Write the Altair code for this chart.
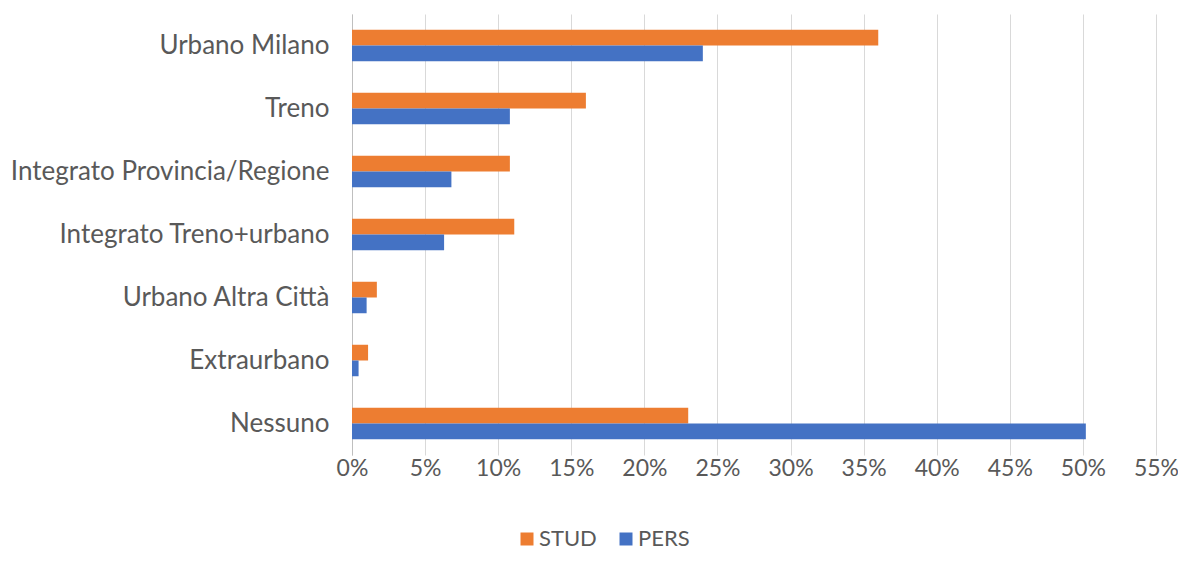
import altair as alt
import pandas as pd

categories = ["Urbano Milano", "Treno", "Integrato Provincia/Regione",
              "Integrato Treno+urbano", "Urbano Altra Città", "Extraurbano", "Nessuno"]
stud = [36.0, 16.0, 10.8, 11.1, 1.7, 1.1, 23.0]
pers = [24.0, 10.8, 6.8, 6.3, 1.0, 0.45, 50.2]
series = ["STUD", "PERS"]
colors = ["#ED7D31", "#4472C4"]
x_ticks = list(range(0, 56, 5))

rows = []
for c, s, p in zip(categories, stud, pers):
    rows.append({"cat": c, "serie": "STUD", "val": s})
    rows.append({"cat": c, "serie": "PERS", "val": p})
df = pd.DataFrame(rows)

FONT = "Lato"
GREY = "#595959"

chart = alt.Chart(df).mark_bar().encode(
    y=alt.Y("cat:N", sort=categories, title=None,
            scale=alt.Scale(paddingInner=0.5, paddingOuter=0.25),
            axis=alt.Axis(ticks=False, domain=True, domainColor="#BFBFBF",
                          labelPadding=23, labelFontSize=26, labelColor=GREY,
                          labelFont=FONT, labelLimit=500, grid=False)),
    yOffset=alt.YOffset("serie:N", sort=series, scale=alt.Scale(domain=series, paddingInner=0, paddingOuter=0)),
    x=alt.X("val:Q", title=None,
            scale=alt.Scale(domain=[0, 55], nice=False),
            axis=alt.Axis(values=x_ticks, labelExpr="datum.value + '%'", ticks=False,
                          domain=False, grid=True, gridColor="#D9D9D9",
                          labelFontSize=23, labelColor=GREY, labelFont=FONT,
                          labelPadding=2, labelFlush=False)),
    color=alt.Color("serie:N", sort=series,
                    scale=alt.Scale(domain=series, range=colors),
                    legend=alt.Legend(title=None, orient="none", direction="horizontal",
                                      legendX=164, legendY=514, symbolType="square",
                                      symbolSize=169, symbolStrokeWidth=0,
                                      labelFontSize=22, labelColor=GREY, labelFont=FONT,
                                      columnPadding=18, labelOffset=1)),
).properties(
    width=804, height=441,
    autosize=alt.AutoSizeParams(type="none"),
    padding={"left": 344, "top": 6, "right": 22, "bottom": 100},
).configure(background="white").configure_view(stroke=None)

chart.save("out.html", embed_options={"renderer": "svg", "actions": False})
